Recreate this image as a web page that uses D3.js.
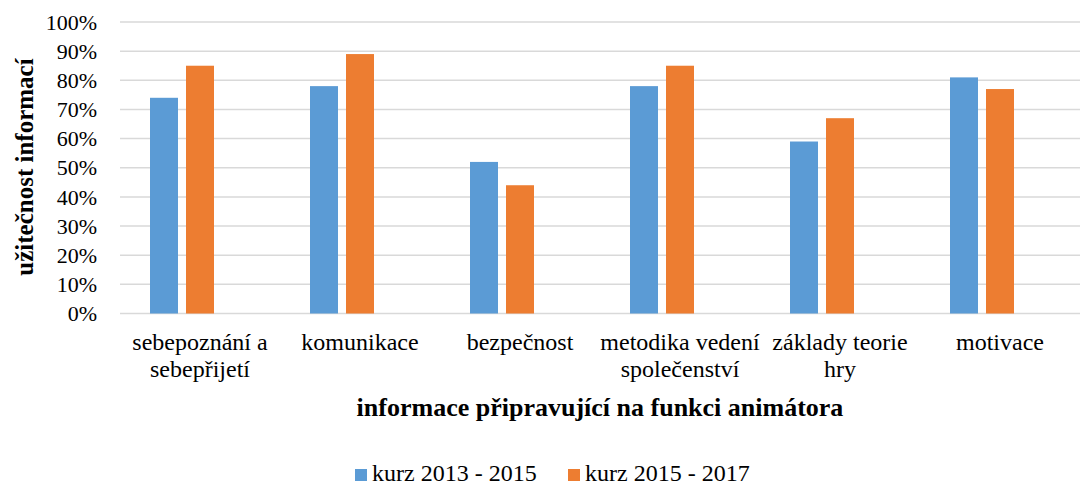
<!DOCTYPE html>
<html>
<head>
<meta charset="utf-8">
<script src="https://cdn.jsdelivr.net/npm/d3@7"></script>
<style>
  body { margin: 0; background: #fff; }
  svg { display: block; font-family: "Liberation Serif", "Times New Roman", serif; }
</style>
</head>
<body>
<div id="chart"></div>
<script>
// categories (labels split in lines as in the original)
const categories = [
    ["sebepoznání a", "sebepřijetí"],
    ["komunikace"],
    ["bezpečnost"],
    ["metodika vedení", "společenství"],
    ["základy teorie", "hry"],
    ["motivace"]
]
const seriesNames = ["kurz 2013 - 2015", "kurz 2015 - 2017"]
const kurz2013 = [74, 78, 52, 78, 59, 81]
const kurz2015 = [85, 89, 44, 85, 67, 77]
const yTicks = [0, 10, 20, 30, 40, 50, 60, 70, 80, 90, 100]
const colors = ["#5b9bd5", "#ed7d31"]

const width = 1086, height = 487
const margin = ({ top: 22, right: 6, bottom: 174, left: 120 })

var svg = d3.select("#chart").append("svg")
    .attr("width", width)
    .attr("height", height)

const catKeys = categories.map((c, i) => i)

// outer band per category, inner band has 3 slots (3rd slot is empty, like the original)
var x = d3.scaleBand()
    .domain(catKeys)
    .range([margin.left, width - margin.right])
    .paddingInner(0.375)
    .paddingOuter(0.1875)

var xInner = d3.scaleBand()
    .domain([0, 1, 2])
    .range([0, x.bandwidth()])
    .paddingInner(0.2222)

var y = d3.scaleLinear()
    .domain([0, 100])
    .range([height - margin.bottom + 0.5, margin.top])

// gridlines
svg.append("g")
    .selectAll("line")
    .data(yTicks)
    .enter().append("line")
    .attr("x1", margin.left)
    .attr("x2", width - margin.right)
    .attr("y1", d => y(d))
    .attr("y2", d => y(d))
    .attr("stroke", "#d9d9d9")
    .attr("stroke-width", 1.5)

// y tick labels
svg.append("g")
    .selectAll("text")
    .data(yTicks)
    .enter().append("text")
    .attr("x", 97)
    .attr("y", d => y(d))
    .attr("dy", "0.35em")
    .attr("text-anchor", "end")
    .style("font-size", "22px")
    .attr("fill", "#000")
    .text(d => d + "%")

// bars
const series = [kurz2013, kurz2015]
series.forEach((vals, s) => {
    svg.append("g")
        .selectAll("rect")
        .data(vals)
        .enter().append("rect")
        .attr("x", (d, i) => x(i) + xInner(s))
        .attr("width", xInner.bandwidth())
        .attr("y", d => y(d))
        .attr("height", d => y(0) - y(d))
        .attr("fill", colors[s])
})

// category labels
var catLabels = svg.append("g")
    .selectAll("text")
    .data(categories)
    .enter().append("text")
    .attr("x", (d, i) => x(i) + x.bandwidth() / 2)
    .attr("y", 350)
    .attr("text-anchor", "middle")
    .style("font-size", "24px")

catLabels.selectAll("tspan")
    .data(d => d)
    .enter().append("tspan")
    .attr("x", function () { return d3.select(this.parentNode).attr("x") })
    .attr("dy", (d, i) => i == 0 ? 0 : 27)
    .text(d => d)

// axis titles
svg.append("text")
    .attr("x", 600)
    .attr("y", 416)
    .attr("text-anchor", "middle")
    .style("font-size", "26px")
    .style("font-weight", "bold")
    .text("informace připravující na funkci animátora")

svg.append("text")
    .attr("transform", "translate(33,167) rotate(-90)")
    .attr("text-anchor", "middle")
    .style("font-size", "25px")
    .style("font-weight", "bold")
    .text("užitečnost informací")

// legend
const legendX = [355, 568]
var legend = svg.append("g")
    .selectAll("g")
    .data(seriesNames)
    .enter().append("g")
    .attr("transform", (d, i) => `translate(${legendX[i]},469)`)

legend.append("rect")
    .attr("width", 12)
    .attr("height", 12)
    .attr("fill", (d, i) => colors[i])

legend.append("text")
    .attr("x", 17)
    .attr("y", 12)
    .style("font-size", "24px")
    .text(d => d)
</script>
</body>
</html>
